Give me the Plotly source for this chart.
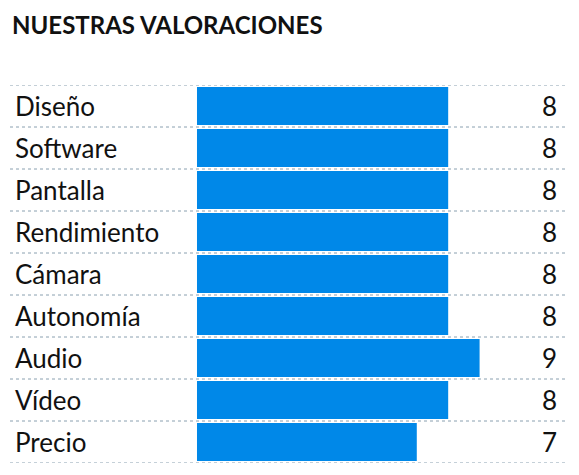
import plotly.graph_objects as go

categories = ["Diseño", "Software", "Pantalla", "Rendimiento", "Cámara",
              "Autonomía", "Audio", "Vídeo", "Precio"]
scores = [8, 8, 8, 8, 8, 8, 9, 8, 7]

x_min, x_max = -5.955, 11.72
font = "Lato, Noto Sans, sans-serif"

fig = go.Figure(go.Bar(
    x=scores, y=categories, orientation="h", width=0.9,
    marker=dict(color="#0088e8", line_width=0), hoverinfo="skip",
))

for i, (cat, val) in enumerate(zip(categories, scores)):
    fig.add_annotation(x=x_min + 0.1, y=cat, text=cat, showarrow=False,
                       xanchor="left", font=dict(size=26, color="#111"))
    fig.add_annotation(x=x_max - 0.2, y=cat, text=str(val), showarrow=False,
                       xanchor="right", font=dict(size=26, color="#111"))

for k in range(len(categories) + 1):
    fig.add_shape(type="line", xref="paper", yref="y", x0=0, x1=1,
                  y0=k - 0.5, y1=k - 0.5,
                  line=dict(color="#8aa0b0", width=1, dash="dot"))

# page body has an 8px margin, so the figure is shifted up/left to compensate
fig.update_layout(
    width=579, height=475,
    margin=dict(l=2, r=22, t=77, b=20),
    paper_bgcolor="white", plot_bgcolor="white",
    font=dict(family=font),
    showlegend=False,
    title=dict(text="<b>NUESTRAS VALORACIONES</b>", x=0.007, xanchor="left",
               y=0.964, yanchor="middle", font=dict(size=24, color="#111")),
    xaxis=dict(range=[x_min, x_max], visible=False, fixedrange=True),
    yaxis=dict(range=[8.5, -0.5], visible=False, fixedrange=True),
)

fig.write_html("out.html")
